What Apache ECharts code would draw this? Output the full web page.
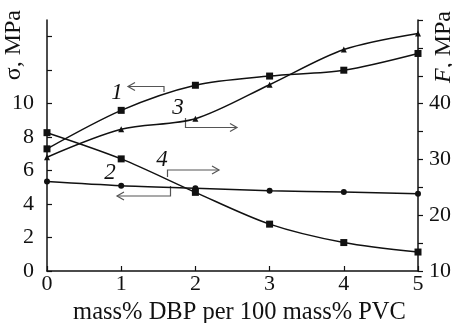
<!DOCTYPE html>
<html>
<head>
<meta charset="utf-8">
<script src="https://cdn.jsdelivr.net/npm/echarts@6/dist/echarts.min.js"></script>
<style>
  html, body { margin: 0; padding: 0; background: #fff; }
  #chart { width: 452px; height: 323px; }
</style>
</head>
<body>
<div id="chart"></div>
<script>
// mass% DBP per 100 mass% PVC
const xVals = [0, 1, 2, 3, 4, 5];
// left axis, sigma (MPa)
const sigma1 = [7.3, 9.6, 11.1, 11.65, 12.0, 13.0];
const sigma2 = [5.35, 5.1, 4.95, 4.8, 4.72, 4.62];
// right axis, F (MPa)
const force3 = [30.4, 35.4, 37.3, 43.4, 49.7, 52.6];
const force4 = [34.8, 30.1, 24.1, 18.4, 15.1, 13.4];

const leftTicks = [0, 2, 4, 6, 8, 10, 12, 14];
const leftLabels = [0, 2, 4, 6, 8, 10];
const rightTicks = [10, 15, 20, 25, 30, 35, 40, 45, 50, 55];
const rightLabels = [10, 20, 30, 40];

const serif = "Liberation Serif";
const ink = "#111";
const arrowInk = "#555";

const pairs = (ys) => xVals.map((x, i) => [x, ys[i]]);

const chart = echarts.init(document.getElementById("chart"));

const lineSeries = (data, axis, symbol, size) => ({
  type: "line",
  yAxisIndex: axis,
  data: pairs(data),
  smooth: 0.3,
  symbol: symbol,
  symbolSize: size,
  showAllSymbol: true,
  lineStyle: { color: ink, width: 1.5 },
  itemStyle: { color: ink, borderWidth: 0 },
  z: 3,
});

// little bracket arrows pointing to the axis each curve belongs to
const arrow = (pts, head) => [
  {
    type: "polyline",
    shape: { points: pts },
    style: { stroke: arrowInk, lineWidth: 1.2, fill: null },
  },
  {
    type: "polyline",
    shape: { points: head },
    style: { stroke: arrowInk, lineWidth: 1.2, fill: null },
  },
];

const tag = (text, x, y) => ({
  type: "text",
  x: x,
  y: y,
  style: {
    text: text,
    font: "italic 23px " + serif,
    fill: ink,
    textAlign: "center",
    textVerticalAlign: "middle",
  },
});

const option = {
  animation: false,
  backgroundColor: "#fff",
  grid: { left: 47, right: 34, top: 20, bottom: 52, outerBoundsMode: "none" },
  xAxis: {
    type: "value",
    min: 0,
    max: 5,
    interval: 1,
    name: "mass% DBP per 100 mass% PVC",
    nameLocation: "middle",
    nameGap: 27,
    nameTextStyle: { fontFamily: serif, fontSize: 24.5, color: ink, padding: [0, 0, 0, 14] },
    axisLine: { lineStyle: { color: ink, width: 1.5 } },
    axisTick: { inside: true, length: 5, lineStyle: { color: ink, width: 1.2 } },
    axisLabel: { fontFamily: serif, fontSize: 22, color: ink, margin: 2 },
    splitLine: { show: false },
  },
  yAxis: [
    {
      type: "value",
      min: 0,
      max: 15,
      axisLine: { show: true, lineStyle: { color: ink, width: 1.5 } },
      axisTick: {
        inside: true,
        length: 5,
        customValues: leftTicks,
        lineStyle: { color: ink, width: 1.2 },
      },
      axisLabel: {
        fontFamily: serif,
        fontSize: 22,
        color: ink,
        margin: 13,
        customValues: leftLabels,
      },
      splitLine: { show: false },
    },
    {
      type: "value",
      min: 10,
      max: 55,
      position: "right",
      axisLine: { show: true, lineStyle: { color: ink, width: 1.5 } },
      axisTick: {
        inside: false,
        length: 5,
        customValues: rightTicks,
        lineStyle: { color: ink, width: 1.2 },
      },
      axisLabel: {
        fontFamily: serif,
        fontSize: 22,
        color: ink,
        margin: 11,
        customValues: rightLabels,
      },
      splitLine: { show: false },
    },
  ],
  series: [
    lineSeries(sigma1, 0, "rect", 7),
    lineSeries(sigma2, 0, "circle", 6),
    lineSeries(force3, 1, "triangle", 6),
    lineSeries(force4, 1, "rect", 7),
  ],
  graphic: [
    {
      type: "text",
      x: 14,
      y: 10,
      rotation: Math.PI / 2,
      style: {
        text: "σ, MPa",
        font: "24px " + serif,
        fill: ink,
        textAlign: "right",
        textVerticalAlign: "middle",
      },
    },
    {
      type: "text",
      x: 444,
      y: 11,
      rotation: Math.PI / 2,
      style: {
        text: "{i|F}, MPa",
        font: "24px " + serif,
        fill: ink,
        textAlign: "right",
        textVerticalAlign: "middle",
        rich: { i: { font: "italic 24px " + serif, fill: ink } },
      },
    },
    tag("1", 117, 93),
    tag("3", 178, 108),
    tag("4", 162, 160),
    tag("2", 110, 173),
    ...arrow([[164, 92], [164, 86.5], [128, 86.5]], [[135, 82.5], [128, 86.5], [135, 90.5]]),
    ...arrow([[185.5, 118], [185.5, 127.5], [237, 127.5]], [[230, 123.5], [237, 127.5], [230, 131.5]]),
    ...arrow([[167.5, 177], [167.5, 170], [219, 170]], [[212, 166], [219, 170], [212, 174]]),
    ...arrow([[170.5, 186], [170.5, 196], [117, 196]], [[124, 192], [117, 196], [124, 200]]),
  ],
};

chart.setOption(option);
</script>
</body>
</html>
